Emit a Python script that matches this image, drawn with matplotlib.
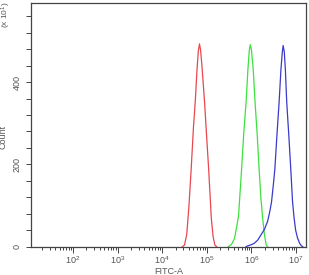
import numpy as np
import matplotlib
matplotlib.use("Agg")
from matplotlib import pyplot as plt
from matplotlib.ticker import FixedLocator, MultipleLocator, LogLocator, NullFormatter

plt.rcParams['font.family'] = ['Liberation Sans', 'DejaVu Sans']
plt.rcParams['mathtext.fontset'] = 'custom'
plt.rcParams['mathtext.rm'] = 'Liberation Sans'
plt.rcParams['mathtext.default'] = 'regular'

# histogram outlines (x in decades, y = count)
red_logx = [4.45, 4.50, 4.55, 4.60, 4.65, 4.70, 4.74, 4.78, 4.81, 4.835,
            4.86, 4.89, 4.95, 5.00, 5.04, 5.10, 5.14, 5.18, 5.22]
red_count = [0, 4, 30, 100, 190, 290, 352, 430, 476, 493,
             478, 440, 350, 260, 190, 70, 25, 4, 0]

green_logx = [5.48, 5.55, 5.62, 5.68, 5.71, 5.75, 5.78, 5.83, 5.88, 5.92, 5.95,
              5.973, 6.00, 6.04, 6.08, 6.13, 6.17, 6.21, 6.25, 6.29, 6.33, 6.36]
green_count = [0, 5, 20, 55, 75, 140, 191, 280, 352, 430, 476,
               491, 478, 430, 352, 270, 191, 120, 70, 30, 4, 0]

blue_logx = [5.88, 5.92, 6.00, 6.06, 6.14, 6.21, 6.29, 6.36, 6.41, 6.45, 6.49,
             6.525, 6.57, 6.62, 6.66, 6.69, 6.71, 6.735, 6.76, 6.79, 6.84,
             6.88, 6.92, 6.955, 6.99, 7.03, 7.08, 7.12, 7.15]
blue_count = [0, 2, 5, 8, 16, 28, 42, 61, 85, 109, 150,
              190, 270, 352, 430, 472, 489, 474, 430, 352, 265,
              190, 110, 70, 40, 22, 8, 2, 0]

y_labels = [0, 200, 400]

fig = plt.figure(figsize=(3.09, 2.75), dpi=100)
ax = fig.add_axes([0.1003, 0.103, 0.8897, 0.887])

ax.plot(10 ** np.array(red_logx), red_count, color='#e8474f', lw=0.9)
ax.plot(10 ** np.array(green_logx), green_count, color='#3ee03e', lw=0.9)
ax.plot(10 ** np.array(blue_logx), blue_count, color='#3a3acc', lw=0.9)

ax.set_xscale('log')
ax.set_xlim(10 ** 1.06, 10 ** 7.22)
ax.set_ylim(0, 593)

ax.xaxis.set_major_locator(FixedLocator([1e2, 1e3, 1e4, 1e5, 1e6, 1e7]))
ax.xaxis.set_minor_locator(LogLocator(base=10, subs=np.arange(2, 10), numticks=20))
ax.xaxis.set_minor_formatter(NullFormatter())
ax.set_xticklabels([r'$10^{%d}$' % k for k in range(2, 8)])

ax.yaxis.set_major_locator(FixedLocator(y_labels))
ax.yaxis.set_minor_locator(MultipleLocator(40))
ax.set_yticklabels([str(v) for v in y_labels], rotation=90, va='center')

for s in ax.spines.values():
    s.set_color('#444444')
    s.set_linewidth(0.9)

ax.tick_params(axis='both', which='both', direction='out', color='#444444',
               labelsize=6.5, labelcolor='#555555', width=0.7)
ax.tick_params(axis='x', which='major', length=4, pad=1.5)
ax.tick_params(axis='x', which='minor', length=2.5)
ax.tick_params(axis='y', which='both', length=3.5, pad=3)

ax.set_xlabel('FITC-A', fontsize=6.5, color='#555555', labelpad=1)
ax.set_ylabel('Count', fontsize=6.5, color='#555555')
ax.yaxis.set_label_coords(-0.085, 0.45)
fig.text(0.022, 0.945, r'(x 10$^{1}$)', rotation=90, fontsize=6,
         color='#555555', ha='center', va='center')

plt.savefig('out.png', dpi=100)
